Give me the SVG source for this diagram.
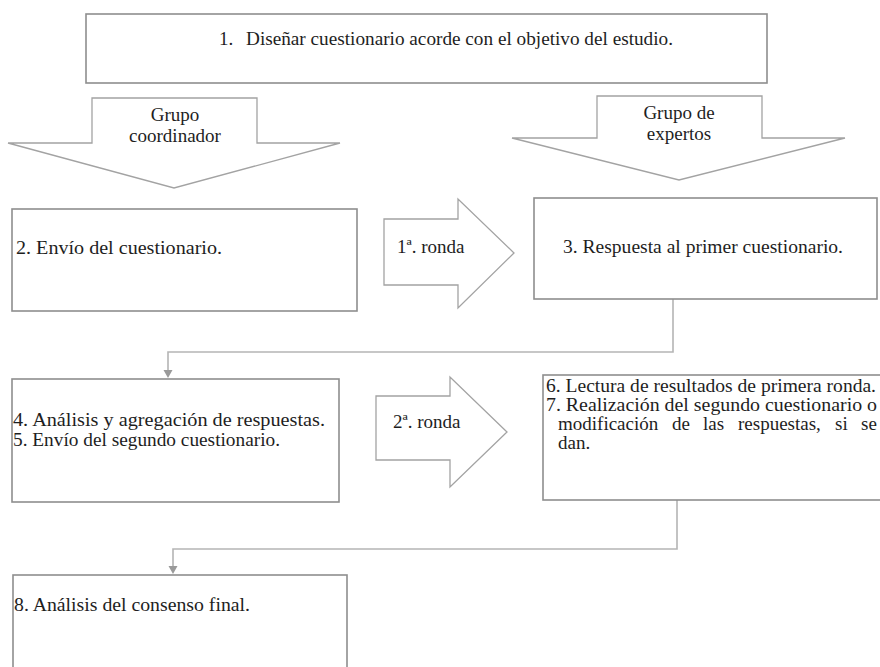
<svg xmlns="http://www.w3.org/2000/svg" width="880" height="667" viewBox="0 0 880 667">
<style>
  .box { fill: #ffffff; stroke: #8e8e8e; stroke-width: 1.6; }
  .shape { fill: #ffffff; stroke: #a3a3a3; stroke-width: 1.3; }
  .conn { fill: none; stroke: #b5b5b5; stroke-width: 1.6; }
  .head { fill: #9a9a9a; }
  .t { font-family: "Liberation Serif", "Times New Roman", serif; font-size: 19px; fill: #1e1e1e; }
  .c { text-anchor: middle; }
</style>
<rect width="880" height="667" fill="#ffffff"/>

<g id="connectors">
  <path class="conn" d="M673,299 V352 H168 V371"/>
  <path class="head" d="M163.5,370 L172.5,370 L168,378 Z"/>
  <path class="conn" d="M677,500 V549 H173 V567"/>
  <path class="head" d="M168.5,566 L177.5,566 L173,574 Z"/>
</g>

<g id="n1">
  <rect class="box" x="86" y="14" width="681" height="69"/>
  <text class="t" x="219" y="45">1.</text>
  <text class="t" x="246" y="45" textLength="427" lengthAdjust="spacingAndGlyphs">Diseñar cuestionario acorde con el objetivo del estudio.</text>
</g>

<g id="grupo-coordinador">
  <polygon class="shape" points="92,98 257,98 257,143 340,143 174,188 8,143 92,143"/>
  <text class="t c" x="175" y="121">Grupo</text>
  <text class="t c" x="175" y="142">coordinador</text>
</g>

<g id="grupo-expertos">
  <polygon class="shape" points="597,96 762,96 762,138 845,138 679,180 512,138 597,138"/>
  <text class="t c" x="679" y="119">Grupo de</text>
  <text class="t c" x="679" y="140">expertos</text>
</g>

<g id="n2">
  <rect class="box" x="12" y="209" width="345" height="102"/>
  <text class="t" x="16" y="254" textLength="206" lengthAdjust="spacingAndGlyphs">2. Envío del cuestionario.</text>
</g>

<g id="ronda1">
  <polygon class="shape" points="384,219 458,219 458,199 514,253 458,308 458,285 384,285"/>
  <text class="t" x="397" y="253">1ª. ronda</text>
</g>

<g id="n3">
  <rect class="box" x="534" y="198" width="343" height="101"/>
  <text class="t" x="563" y="253" textLength="280" lengthAdjust="spacingAndGlyphs">3. Respuesta al primer cuestionario.</text>
</g>

<g id="n4">
  <rect class="box" x="12" y="379" width="327" height="123"/>
  <text class="t" x="13" y="426" textLength="312" lengthAdjust="spacingAndGlyphs">4. Análisis y agregación de respuestas.</text>
  <text class="t" x="13" y="446" textLength="267" lengthAdjust="spacingAndGlyphs">5. Envío del segundo cuestionario.</text>
</g>

<g id="ronda2">
  <polygon class="shape" points="376,396 450,396 450,377 507,432 450,487 450,460 376,460"/>
  <text class="t" x="393" y="428">2ª. ronda</text>
</g>

<g id="n6">
  <rect class="box" x="543" y="375" width="345" height="125"/>
  <text class="t" x="546" y="392" textLength="330" lengthAdjust="spacingAndGlyphs">6. Lectura de resultados de primera ronda.</text>
  <text class="t" x="546" y="411" textLength="331" lengthAdjust="spacingAndGlyphs">7. Realización del segundo cuestionario o</text>
  <text class="t" y="430"><tspan x="558">modificación</tspan><tspan x="672">de</tspan><tspan x="703">las</tspan><tspan x="738">respuestas,</tspan><tspan x="835">si</tspan><tspan x="861">se</tspan></text>
  <text class="t" x="558" y="449">dan.</text>
</g>

<g id="n8">
  <rect class="box" x="13" y="575" width="334" height="100"/>
  <text class="t" x="14" y="611" textLength="236" lengthAdjust="spacingAndGlyphs">8. Análisis del consenso final.</text>
</g>
</svg>
